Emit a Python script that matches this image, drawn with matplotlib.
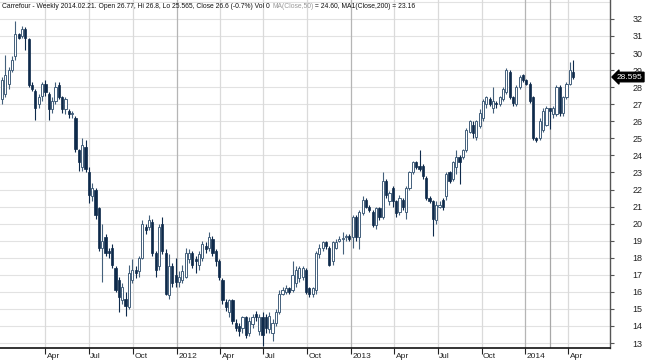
import numpy as np
import pandas as pd
import matplotlib
matplotlib.use("Agg")
import matplotlib.pyplot as plt
import matplotlib.dates as mdates
import matplotlib.transforms as mtransforms

plt.rcParams['font.family'] = ['Liberation Sans Narrow', 'Liberation Sans', 'DejaVu Sans']

# weekly candles (Friday close), Dec 2010 .. Apr 2014
dates = pd.date_range('2010-12-31', periods=172, freq='W-FRI')

opens = [27.3, 27.6, 28.2, 29.0, 29.8, 31.1, 31.0, 31.4, 30.8, 28.1,
         27.8, 27.0, 27.5, 28.2, 27.6, 26.7, 27.2, 28.1, 27.4, 26.7,
         26.6, 26.4, 26.2, 24.3, 23.3, 24.5, 23.0, 21.6, 22.0, 20.9,
         18.6, 19.2, 18.4, 18.6, 17.4, 16.7, 15.5, 15.6, 15.1, 16.7,
         17.3, 17.2, 18.0, 19.8, 19.8, 20.1, 18.3, 17.5, 20.0, 18.3,
         15.8, 17.5, 17.0, 16.6, 16.7, 16.9, 17.9, 18.3, 17.9, 17.6,
         18.0, 18.7, 18.6, 19.1, 18.4, 17.8, 16.7, 15.4, 14.8, 15.5,
         14.2, 14.0, 13.9, 14.5, 13.6, 14.1, 14.7, 13.7, 14.5, 14.5,
         13.8, 13.6, 14.2, 14.8, 15.9, 16.0, 16.2, 16.1, 16.5, 16.8,
         16.9, 17.3, 16.2, 15.9, 16.1, 18.2, 18.6, 18.9, 18.6, 17.8,
         18.6, 19.0, 19.1, 19.2, 19.3, 19.2, 20.4, 19.2, 20.6, 21.4,
         21.0, 20.7, 19.9, 20.9, 20.4, 22.5, 21.3, 22.1, 21.3, 20.7,
         21.4, 20.7, 22.1, 23.0, 23.6, 23.4, 23.4, 22.7, 21.5, 21.3,
         20.2, 21.0, 21.4, 21.6, 23.0, 22.6, 23.3, 23.9, 23.9, 24.3,
         25.4, 25.8, 25.1, 25.7, 26.2, 27.0, 27.3, 26.8, 27.1, 27.0,
         27.3, 27.7, 28.9, 27.4, 27.0, 28.0, 28.7, 28.4, 28.2, 27.4,
         25.0, 25.0, 25.5, 25.8, 26.77, 26.4, 26.4, 28.0, 26.5, 27.4,
         28.2, 28.9]
highs = [28.6, 29.9, 29.2, 29.8, 31.9, 31.2, 31.6, 31.5, 30.9, 28.3,
         27.9, 27.6, 28.3, 28.4, 27.7, 27.4, 28.3, 28.3, 27.5, 27.4,
         26.7, 26.6, 26.3, 24.4, 25.0, 24.9, 23.3, 22.4, 22.1, 21.0,
         20.0, 19.4, 18.6, 18.8, 17.5, 16.9, 16.5, 16.0, 17.6, 17.9,
         17.5, 18.1, 20.2, 20.0, 20.5, 20.3, 18.4, 20.0, 20.4, 18.5,
         18.2, 17.7, 18.0, 17.2, 17.6, 18.6, 18.5, 18.4, 18.1, 18.4,
         19.0, 18.9, 19.5, 19.3, 18.5, 17.9, 16.8, 15.6, 15.6, 15.6,
         14.4, 14.2, 14.6, 14.6, 14.5, 14.7, 14.9, 14.7, 14.8, 14.7,
         14.8, 14.4, 15.0, 16.1, 16.3, 16.4, 16.3, 17.8, 17.5, 17.5,
         17.5, 17.4, 16.3, 16.3, 18.4, 18.8, 19.0, 19.0, 18.7, 19.0,
         19.1, 19.3, 19.5, 19.4, 19.4, 20.5, 20.5, 20.8, 21.6, 21.5,
         21.1, 20.8, 21.0, 21.0, 23.0, 22.6, 21.9, 22.2, 21.4, 21.7,
         21.5, 22.2, 23.1, 23.7, 23.7, 24.3, 23.5, 22.8, 21.6, 21.4,
         21.3, 21.3, 21.5, 23.0, 23.1, 23.7, 24.3, 24.0, 24.4, 25.6,
         26.1, 26.0, 26.1, 26.7, 27.3, 27.5, 27.4, 28.0, 27.2, 27.5,
         28.0, 29.1, 29.0, 27.5, 28.1, 28.7, 28.8, 28.5, 28.3, 27.5,
         25.1, 26.2, 26.8, 26.9, 26.8, 26.9, 28.1, 28.1, 27.5, 28.3,
         29.5, 29.6]
lows = [27.0, 27.4, 27.9, 28.9, 29.6, 30.8, 30.9, 30.2, 28.0, 27.8,
        26.1, 26.8, 27.2, 27.5, 26.1, 26.5, 27.0, 27.3, 26.5, 26.4,
        26.2, 26.2, 24.2, 23.1, 23.1, 23.0, 21.2, 21.3, 20.3, 18.4,
        16.6, 18.1, 18.0, 17.4, 16.0, 14.8, 15.3, 14.6, 15.0, 16.5,
        16.8, 16.9, 17.9, 19.4, 19.6, 18.1, 16.9, 17.3, 18.2, 15.8,
        15.6, 16.3, 16.3, 16.3, 16.5, 16.8, 17.7, 17.4, 17.1, 17.3,
        17.8, 18.3, 18.4, 18.1, 17.5, 16.7, 15.3, 14.9, 14.5, 14.1,
        13.7, 13.4, 13.6, 13.3, 13.4, 13.9, 14.3, 13.5, 12.8, 13.6,
        13.6, 13.1, 14.0, 14.7, 15.8, 15.9, 15.9, 16.0, 16.3, 16.6,
        16.7, 15.9, 15.7, 15.7, 15.9, 18.0, 18.4, 18.5, 17.5, 17.6,
        18.5, 18.9, 18.2, 19.0, 19.0, 18.6, 19.0, 18.5, 20.5, 20.9,
        20.7, 19.8, 19.7, 20.2, 20.3, 21.5, 21.1, 21.0, 20.4, 20.5,
        20.8, 20.3, 22.0, 22.9, 23.2, 23.1, 22.6, 21.4, 21.2, 19.3,
        20.0, 20.9, 20.8, 21.4, 22.4, 22.5, 22.9, 22.3, 23.8, 24.2,
        25.3, 25.0, 24.9, 25.6, 26.0, 26.8, 26.9, 26.5, 26.8, 26.9,
        27.2, 27.6, 27.3, 26.9, 26.9, 27.9, 28.3, 28.1, 27.1, 24.9,
        24.8, 24.9, 25.4, 25.7, 25.565, 26.2, 26.3, 26.3, 26.3, 27.3,
        28.1, 28.5]
closes = [28.4, 28.7, 29.0, 29.6, 31.1, 30.9, 31.4, 30.9, 28.1, 27.9,
          26.8, 27.4, 28.2, 27.7, 26.7, 27.2, 28.0, 27.4, 26.7, 27.3,
          26.4, 26.5, 24.4, 23.6, 24.6, 23.2, 21.7, 22.1, 20.5, 18.6,
          19.0, 18.3, 18.3, 17.6, 16.1, 15.7, 16.3, 15.2, 17.1, 17.3,
          17.1, 18.0, 20.0, 19.6, 20.2, 18.3, 17.3, 19.8, 18.4, 15.9,
          17.5, 16.5, 16.6, 16.9, 17.2, 18.3, 18.3, 17.6, 17.8, 18.2,
          18.8, 18.5, 19.2, 18.3, 17.8, 16.9, 15.5, 15.1, 15.5, 14.3,
          13.9, 13.7, 14.5, 13.5, 14.3, 14.5, 14.5, 14.5, 13.5, 13.9,
          14.6, 14.2, 14.8, 15.9, 16.1, 16.2, 16.0, 17.0, 17.3, 17.4,
          17.4, 16.0, 15.9, 16.2, 18.3, 18.6, 18.9, 18.7, 17.6, 18.9,
          18.9, 19.1, 19.15, 19.3, 19.1, 20.4, 19.2, 20.7, 21.4, 21.0,
          20.8, 19.9, 20.9, 20.4, 22.5, 21.7, 21.8, 21.3, 20.6, 21.5,
          21.0, 22.1, 23.0, 23.6, 23.3, 23.2, 22.8, 21.5, 21.3, 20.3,
          21.1, 21.1, 21.0, 22.9, 22.5, 23.6, 23.9, 23.6, 24.3, 25.5,
          26.0, 25.3, 26.0, 26.5, 27.2, 27.4, 27.0, 27.2, 27.0, 27.4,
          27.9, 29.0, 27.4, 27.1, 28.0, 28.6, 28.4, 28.2, 27.2, 25.0,
          24.9, 26.0, 26.6, 26.8, 26.6, 26.8, 28.0, 26.5, 27.4, 28.2,
          29.0, 28.595]

tick_dates = ['2011-04-01', '2011-07-01', '2011-10-01', '2012-01-01',
              '2012-04-01', '2012-07-01', '2012-10-01', '2013-01-01',
              '2013-04-01', '2013-07-01', '2013-10-01', '2014-01-01',
              '2014-04-01']
tick_labels = ['Apr', 'Jul', 'Oct', '2012', 'Apr', 'Jul', 'Oct', '2013',
               'Apr', 'Jul', 'Oct', '2014', 'Apr']
cursor_date = '2014-02-21'
last_price = 28.595

title_a = "Carrefour - Weekly 2014.02.21. Open 26.77, Hi 26.8, Lo 25.565, Close 26.6 (-0.7%) Vol 0 "
title_b = "MA(Close,50)"
title_c = " = 24.60, MA1(Close,200) = 23.16"

W, H = 645, 363
fig = plt.figure(figsize=(W / 100, H / 100), dpi=100)
ax = fig.add_axes([0, (H - 348) / H, 610 / W, 348 / H])

x = mdates.date2num(dates)
o = np.array(opens); h = np.array(highs); l = np.array(lows); c = np.array(closes)
up = c >= o

px_day = 3.34 / 7
left = x[0] - 2 / px_day
ax.set_xlim(left, left + 610 / px_day)
ax.set_ylim(12.71, 33.11)

# grid
for yv in range(13, 34):
    ax.axhline(yv, color='#e2e2e2', lw=0.8, zorder=0)
tx = mdates.date2num(pd.to_datetime(tick_dates))
for t, lab in zip(tx, tick_labels):
    col = '#b5b5b5' if lab.isdigit() else '#dadada'
    ax.axvline(t, color=col, lw=0.9, zorder=0)
ax.axvline(mdates.date2num(pd.Timestamp(cursor_date)), color='#a8a8a8', lw=0.9, zorder=0)

# candles
dark = '#0e2a4b'
edge_up = '#44607c'
bw = 4.6
ax.vlines(x[up], l[up], h[up], color=edge_up, lw=0.8, zorder=2)
ax.vlines(x[~up], l[~up], h[~up], color=dark, lw=0.8, zorder=2)
ax.bar(x[up], c[up] - o[up], bottom=o[up], width=bw, color='white',
       edgecolor=edge_up, linewidth=0.7, zorder=3)
ax.bar(x[~up], o[~up] - c[~up], bottom=c[~up], width=bw, color=dark,
       edgecolor=dark, linewidth=0.5, zorder=3)

# axes styling
for s in ['top', 'left']:
    ax.spines[s].set_visible(False)
ax.spines['right'].set_color('#555555')
ax.spines['right'].set_linewidth(1.0)
ax.spines['bottom'].set_color('#111111')
ax.spines['bottom'].set_linewidth(1.2)

ax.yaxis.tick_right()
ax.set_yticks(range(13, 33))
ax.tick_params(axis='y', length=3, width=0.8, color='#555555', pad=13,
               labelsize=6.5, labelcolor='#222222')
ax.set_xticks(tx)
ax.set_xticklabels(tick_labels)
ax.tick_params(axis='x', length=4, width=0.8, color='#222222', pad=0,
               labelsize=6, labelcolor='#222222')
off = mtransforms.ScaledTranslation(1.5 / 100, 1 / 100, fig.dpi_scale_trans)
for lbl in ax.get_xticklabels():
    lbl.set_ha('left')
    lbl.set_transform(lbl.get_transform() + off)

# last price marker
trans = mtransforms.blended_transform_factory(ax.transAxes, ax.transData)
ax.text(617 / 610, last_price, '28.595', transform=trans, color='white',
        fontsize=6, ha='left', va='center', clip_on=False,
        bbox=dict(boxstyle='larrow,pad=0.15', fc='black', ec='black'))

# title line in three pieces
fs = 4.85
t1 = ax.text(0.004, 1 - 6 / 348, title_a, transform=ax.transAxes, fontsize=fs,
             color='#111111', va='center', ha='left', zorder=5)
t2 = ax.annotate(title_b, xy=(1, 0), xycoords=t1, va='bottom', ha='left',
                 fontsize=fs, color='#9a9a9a', zorder=5)
ax.annotate(title_c, xy=(1, 0), xycoords=t2, va='bottom', ha='left',
            fontsize=fs, color='#111111', zorder=5)

fig.savefig('out.png', dpi=100)
